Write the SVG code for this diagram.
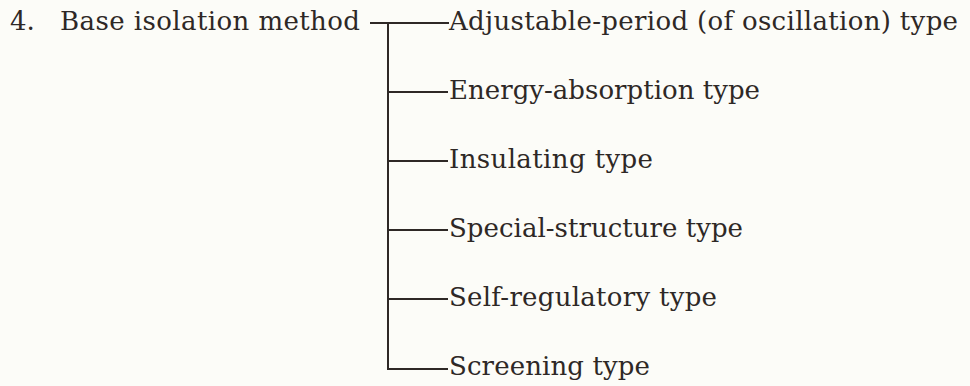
<svg xmlns="http://www.w3.org/2000/svg" width="970" height="386" viewBox="0 0 970 386">
<style>
text{font-family:"DejaVu Serif","Liberation Serif",serif;font-size:26px;fill:#2e2826}
.c{stroke:#2e2826;stroke-width:2;fill:none}
</style>
<rect width="970" height="386" fill="#fcfcf8"/>
<g id="root"><text x="10" y="30">4.</text><text x="60" y="30" textLength="300">Base isolation method</text></g>
<g id="connectors">
<path class="c" d="M370 23H449M388 23V369H448M388 92H448M388 161H448M388 230H448M388 299H448"/>
</g>
<g id="n1"><text x="449" y="30" textLength="509">Adjustable-period (of oscillation) type</text></g>
<g id="n2"><text x="449" y="99" textLength="311">Energy-absorption type</text></g>
<g id="n3"><text x="449" y="168" textLength="204">Insulating type</text></g>
<g id="n4"><text x="449" y="237" textLength="294">Special-structure type</text></g>
<g id="n5"><text x="449" y="306" textLength="268">Self-regulatory type</text></g>
<g id="n6"><text x="449" y="375" textLength="201">Screening type</text></g>
</svg>
